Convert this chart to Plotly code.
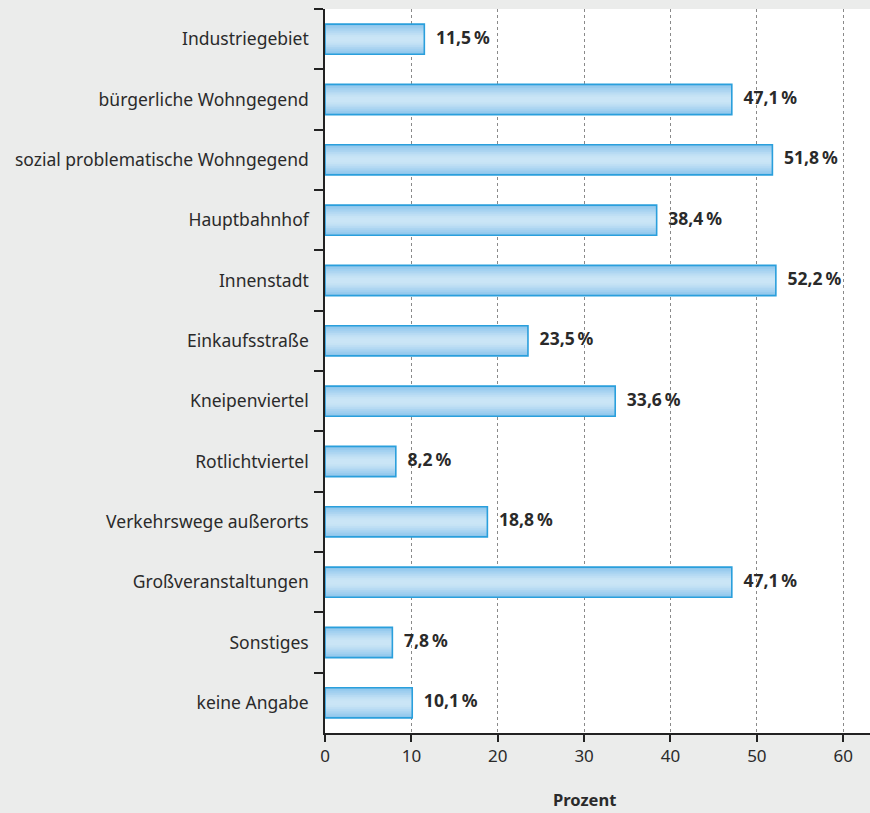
import plotly.graph_objects as go

categories = ["Industriegebiet", "bürgerliche Wohngegend", "sozial problematische Wohngegend",
              "Hauptbahnhof", "Innenstadt", "Einkaufsstraße", "Kneipenviertel", "Rotlichtviertel",
              "Verkehrswege außerorts", "Großveranstaltungen", "Sonstiges", "keine Angabe"]
values = [11.5, 47.1, 51.8, 38.4, 52.2, 23.5, 33.6, 8.2, 18.8, 47.1, 7.8, 10.1]
x_ticks = [0, 10, 20, 30, 40, 50, 60]
x_title = "Prozent"

labels = ["\u2002\u2009" + f"{v:.1f}".replace(".", ",") + "\u2009%" for v in values]

BG = "#ebeceb"
FONT = "Noto Sans"
TXT = "#2a2a2a"

fig = go.Figure()

# gradient simulation: stacked overlay bars, darker at edges, lighter at center
grad_widths = [0.5, 0.44, 0.38, 0.32, 0.26, 0.20, 0.14, 0.08]
grad_colors = ["#8ec6ec", "#98cbee", "#a2d0f0", "#acd5f1", "#b6daf3", "#bfdff4", "#c6e3f5", "#cae5f6"]
for w, c in zip(grad_widths, grad_colors):
    fig.add_trace(go.Bar(y=categories, x=values, orientation="h", width=w,
                         marker=dict(color=c, line=dict(width=0)), hoverinfo="skip",
                         showlegend=False))

# outline
fig.add_trace(go.Bar(y=categories, x=values, orientation="h", width=0.5,
                     marker=dict(color="rgba(0,0,0,0)", line=dict(color="#2a9fdc", width=1.6)),
                     showlegend=False))

# value labels
fig.add_trace(go.Scatter(y=categories, x=values, mode="text", text=labels,
                         textposition="middle right",
                         textfont=dict(family=FONT, size=17.5, color=TXT, weight="bold"),
                         showlegend=False, cliponaxis=False))

fig.add_annotation(text="<b>" + x_title + "</b>", x=30, xref="x", y=-0.0925, yref="paper",
                   yanchor="middle", xanchor="center",
                   showarrow=False, font=dict(family=FONT, size=16.5, color=TXT))

n = len(categories)
fig.update_layout(
    width=870, height=813,
    barmode="overlay",
    paper_bgcolor=BG, plot_bgcolor="white",
    margin=dict(l=325, r=0, t=9, b=80),
    font=dict(family=FONT, size=17.5, color=TXT),
    xaxis=dict(range=[0, 63.1], tickvals=x_ticks, showgrid=True, gridcolor="#8a8a8a",
               griddash="dot", gridwidth=1, zeroline=False, showline=True, linecolor="#222",
               linewidth=1.5, ticks="outside", ticklen=7, tickcolor="#222", tickwidth=1.5,
               tickfont=dict(family=FONT, size=17, color=TXT), fixedrange=True),
    yaxis=dict(range=[n - 0.5, -0.5], showline=True, linecolor="#222", linewidth=1.5,
               ticks="outside", tickson="boundaries", ticklen=9, tickcolor="#222", tickwidth=1.5,
               showgrid=False, tickfont=dict(family=FONT, size=17.5, color=TXT),
               ticklabelstandoff=11, automargin=False),
)

fig.write_html("out.html", config={"displayModeBar": False},
               post_script="document.body.style.margin='0';document.body.style.background='" + BG + "';")
